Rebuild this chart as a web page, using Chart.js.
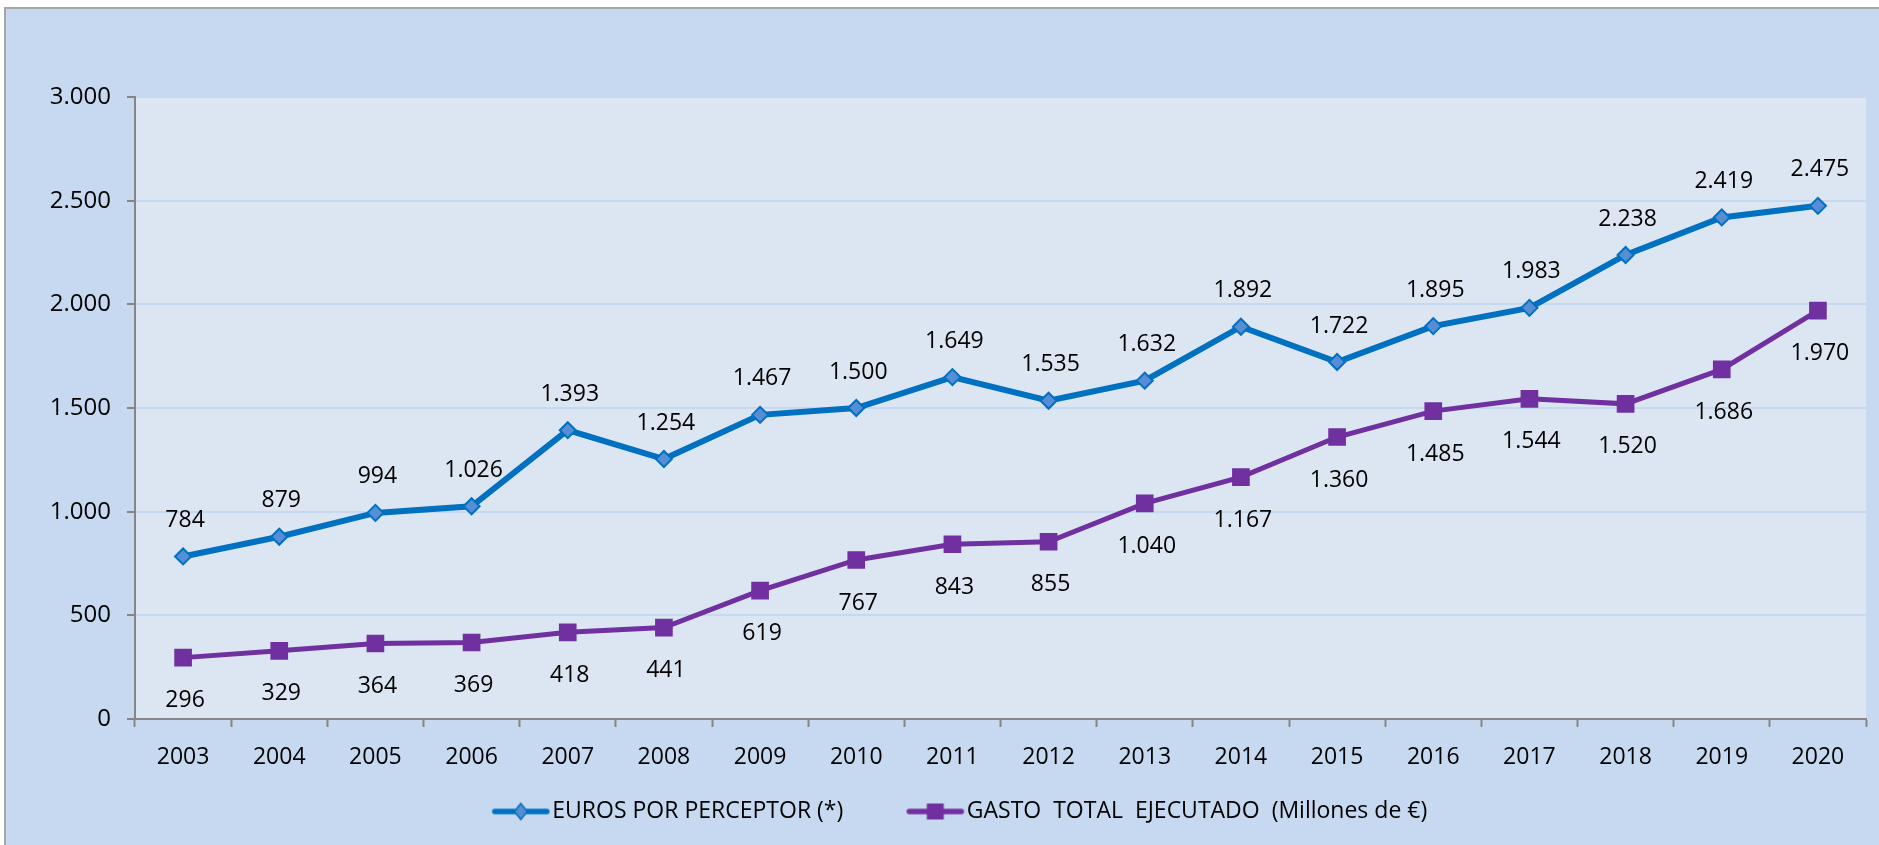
<!DOCTYPE html>
<html>
<head>
<meta charset="utf-8">
<script src="https://cdn.jsdelivr.net/npm/chart.js@4/dist/chart.umd.min.js"></script>
<style>
  html, body { margin: 0; padding: 0; background: #ffffff; }
  #wrap { width: 1879px; height: 845px; position: relative; }
</style>
</head>
<body>
<div id="wrap"><canvas id="grafico"></canvas></div>
<script>
// datos del gráfico
const anios = ['2003', '2004', '2005', '2006', '2007', '2008', '2009', '2010', '2011', '2012', '2013', '2014', '2015', '2016', '2017', '2018', '2019', '2020'];
const eurosPerceptor = [784, 879, 994, 1026, 1393, 1254, 1467, 1500, 1649, 1535, 1632, 1892, 1722, 1895, 1983, 2238, 2419, 2475];
const gastoTotal = [296, 329, 364, 369, 418, 441, 619, 767, 843, 855, 1040, 1167, 1360, 1485, 1544, 1520, 1686, 1970];
const nombresSeries = ['EUROS POR PERCEPTOR (*)', 'GASTO  TOTAL  EJECUTADO  (Millones de\u00A0€)'];
const ticksY = [0, 500, 1000, 1500, 2000, 2500, 3000];

const AZUL = '#0070C0';
const AZUL_CLARO = '#558ED5';
const MORADO = '#7030A0';
const FUENTE = "'Open Sans', sans-serif";

// separador de miles con punto
const fmt = v => String(v).replace(/\B(?=(\d{3})+(?!\d))/g, '.');

// iconos de la leyenda (linea + marcador). El hueco a la izquierda hace de separacion entre items
function iconoLeyenda(color, relleno, forma) {
    const c = document.createElement('canvas');
    c.width = 122; c.height = 22;
    const g = c.getContext('2d');
    g.strokeStyle = color;
    g.lineWidth = 5.5;
    g.lineCap = 'round';
    g.beginPath(); g.moveTo(66, 11); g.lineTo(118, 11); g.stroke();
    g.fillStyle = relleno;
    g.lineWidth = 1.5;
    g.beginPath();
    const cx = 92;
    if (forma === 'rombo') {
        g.moveTo(cx, 3); g.lineTo(cx + 6.5, 11); g.lineTo(cx, 19); g.lineTo(cx - 6.5, 11); g.closePath();
        g.fill(); g.stroke();
    } else {
        g.rect(cx - 8.5, 3, 17, 16);
        g.fill();
    }
    return c;
}
const iconos = [iconoLeyenda(AZUL, AZUL_CLARO, 'rombo'), iconoLeyenda(MORADO, MORADO, 'cuadrado')];

// fondo exterior y del área de trazado
const fondoPlugin = {
    id: 'fondo',
    beforeDraw(chart) {
        const { ctx, chartArea: a } = chart;
        ctx.save();
        ctx.fillStyle = '#ffffff';
        ctx.fillRect(0, 0, chart.width, chart.height);
        ctx.fillStyle = '#C6D9F0';
        ctx.fillRect(5, 8, chart.width + 10, chart.height + 10);
        ctx.strokeStyle = '#A6A6A6';
        ctx.lineWidth = 2;
        ctx.strokeRect(5, 8, chart.width + 10, chart.height + 10);
        ctx.fillStyle = '#DCE6F2';
        ctx.fillRect(a.left, a.top, a.right - a.left, a.bottom - a.top);
        ctx.restore();
    }
};

// etiquetas de datos
const etiquetasPlugin = {
    id: 'etiquetas',
    afterDatasetsDraw(chart) {
        const { ctx } = chart;
        ctx.save();
        ctx.font = '23px ' + FUENTE;
        ctx.fillStyle = '#000000';
        ctx.textAlign = 'center';
        ctx.textBaseline = 'middle';
        chart.data.datasets.forEach((ds, i) => {
            const meta = chart.getDatasetMeta(i);
            const desp = i === 0 ? -36 : 43;
            meta.data.forEach((el, j) => {
                ctx.fillText(fmt(ds.data[j]), el.x + 2, el.y + desp);
            });
        });
        ctx.restore();
    }
};

const ctx = document.getElementById('grafico').getContext('2d');
const grafico = new Chart(ctx, {
    type: 'line',
    data: {
        labels: anios,
        datasets: [{
            label: nombresSeries[0],
            data: eurosPerceptor,
            borderColor: AZUL,
            borderWidth: 6,
            pointStyle: 'rectRot',
            pointRadius: 8,
            pointBackgroundColor: AZUL_CLARO,
            pointBorderColor: AZUL,
            pointBorderWidth: 2,
            tension: 0
        }, {
            label: nombresSeries[1],
            data: gastoTotal,
            borderColor: MORADO,
            borderWidth: 5,
            pointStyle: 'rect',
            pointRadius: 12.5,
            pointBackgroundColor: MORADO,
            pointBorderColor: MORADO,
            pointBorderWidth: 0,
            tension: 0
        }]
    },
    options: {
        responsive: true,
        maintainAspectRatio: false,
        animation: false,
        layout: { padding: { left: 0, top: 97, right: 13, bottom: 12 } },
        plugins: {
            tooltip: { enabled: false },
            legend: {
                position: 'bottom',
                labels: {
                    font: { family: FUENTE, size: 23 },
                    color: '#000000',
                    usePointStyle: true,
                    pointStyleWidth: 102,
                    boxHeight: 20,
                    padding: 10,
                    generateLabels: (chart) => chart.data.datasets.map((ds, i) => ({
                        text: ds.label,
                        pointStyle: iconos[i],
                        fillStyle: ds.borderColor,
                        strokeStyle: ds.borderColor,
                        lineWidth: 0,
                        datasetIndex: i,
                        hidden: false
                    }))
                }
            }
        },
        scales: {
            x: {
                offset: true,
                afterFit: (s) => { s.height = 71; },
                grid: { offset: true, drawOnChartArea: false, tickLength: 8, tickColor: '#868686', tickWidth: 2 },
                border: { color: '#868686', width: 2 },
                ticks: { font: { family: FUENTE, size: 23 }, color: '#000000', padding: 17, maxRotation: 0 }
            },
            y: {
                min: 0,
                max: 3000,
                afterFit: (s) => { s.width = 135; },
                afterBuildTicks: (s) => { s.ticks = ticksY.map(v => ({ value: v })); },
                grid: { color: '#C6D9F0', lineWidth: 2, tickLength: 8, tickColor: '#868686', tickWidth: 2 },
                border: { color: '#868686', width: 2 },
                ticks: { font: { family: FUENTE, size: 24 }, color: '#000000', padding: 16, callback: (v) => fmt(v) }
            }
        }
    },
    plugins: [fondoPlugin, etiquetasPlugin]
});
</script>
</body>
</html>
